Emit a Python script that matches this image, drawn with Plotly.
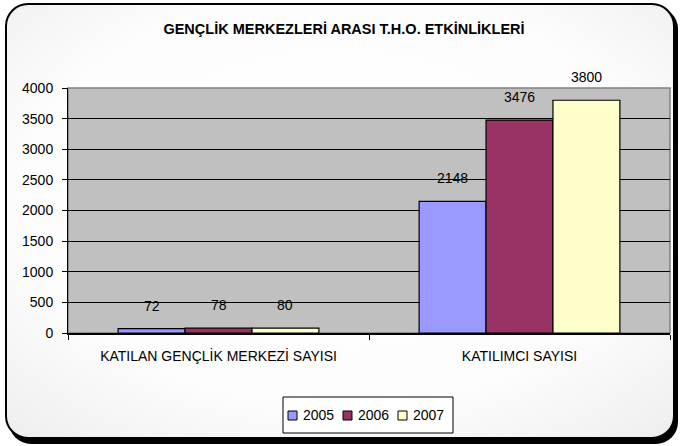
import plotly.graph_objects as go
import base64

categories = ["KATILAN GENÇLİK MERKEZİ SAYISI", "KATILIMCI SAYISI"]
series_names = ["2005", "2006", "2007"]
values_2005 = [72, 2148]
values_2006 = [78, 3476]
values_2007 = [80, 3800]
series_values = [values_2005, values_2006, values_2007]
colors = ["#9999FF", "#993366", "#FFFFCC"]
y_ticks = [0, 500, 1000, 1500, 2000, 2500, 3000, 3500, 4000]
title_text = "GENÇLİK MERKEZLERİ ARASI T.H.O. ETKİNLİKLERİ"

W, H = 680, 446
FONT = "Liberation Sans, Arial, sans-serif"
bargap = 0.333
L, R, T, B = 68, 10, 88, 113
pw = W - L - R
ph = H - T - B


def px_x(px):
    return (px - L) / pw


def px_y(py):
    return (H - B - py) / ph


fig = go.Figure()
for name, vals, col in zip(series_names, series_values, colors):
    fig.add_trace(go.Bar(
        name=name, x=categories, y=vals,
        marker=dict(color=col, line=dict(color="black", width=1.2)),
        hoverinfo="skip", showlegend=False,
    ))

# value labels above bars
bw = (1 - bargap) / len(series_names)
for si, vals in enumerate(series_values):
    off = (si - (len(series_names) - 1) / 2) * bw
    for ci, v in enumerate(vals):
        fig.add_annotation(x=ci + off, y=v, xref="x", yref="y", text=str(v),
                           showarrow=False, yshift=23, yanchor="middle",
                           font=dict(family=FONT, size=14, color="black"))

# background frame (rounded rectangle with soft gradient and shadow)
svg = f'''<svg xmlns="http://www.w3.org/2000/svg" width="{W}" height="{H}" viewBox="0 0 {W} {H}">
<defs><radialGradient id="g" cx="50%" cy="45%" r="72%">
<stop offset="0%" stop-color="#ffffff"/><stop offset="65%" stop-color="#fdfdfd"/><stop offset="100%" stop-color="#efefef"/></radialGradient></defs>
<rect x="0" y="0" width="{W}" height="{H}" fill="#ffffff"/>
<rect x="9" y="7" width="669" height="437" rx="22" ry="22" fill="#000000"/>
<rect x="6" y="4" width="668" height="434" rx="22" ry="22" fill="url(#g)" stroke="#000000" stroke-width="2"/>
</svg>'''
src = "data:image/svg+xml;base64," + base64.b64encode(svg.encode()).decode()
fig.add_layout_image(dict(source=src, xref="paper", yref="paper",
                          x=-L / pw, y=1 + T / ph, sizex=W / pw, sizey=H / ph,
                          xanchor="left", yanchor="top",
                          sizing="stretch", layer="below"))

# plot area background
fig.add_shape(type="rect", xref="paper", yref="paper", x0=0, y0=0, x1=1, y1=1,
              fillcolor="#C0C0C0", line=dict(color="#808080", width=1.5), layer="below")

# custom legend
fig.add_shape(type="rect", xref="paper", yref="paper",
              x0=px_x(283), x1=px_x(453), y0=px_y(433), y1=px_y(397),
              fillcolor="white", line=dict(color="black", width=1), layer="above")
for i, (name, col) in enumerate(zip(series_names, colors)):
    sx = 288 + i * 55
    fig.add_shape(type="rect", xref="paper", yref="paper",
                  x0=px_x(sx), x1=px_x(sx + 9), y0=px_y(420), y1=px_y(411),
                  fillcolor=col, line=dict(color="black", width=1), layer="above")
    fig.add_annotation(x=px_x(sx + 13), y=px_y(414.5), xref="paper", yref="paper",
                       text=name, showarrow=False, xanchor="left", yanchor="middle",
                       font=dict(family=FONT, size=14, color="black"))

fig.update_layout(
    width=W, height=H,
    margin=dict(l=L, r=R, t=T, b=B, pad=0, autoexpand=False),
    paper_bgcolor="rgba(0,0,0,0)",
    plot_bgcolor="rgba(0,0,0,0)",
    barmode="group", bargap=bargap, bargroupgap=0,
    font=dict(family=FONT, size=14, color="black"),
    title=dict(text="<b>" + title_text + "</b>", x=344 / W, xref="container",
               xanchor="center",
               y=1 - 28.5 / H, yanchor="middle", yref="container",
               font=dict(family=FONT, size=14.5, color="black")),
    showlegend=False,
    xaxis=dict(showline=True, linecolor="black", linewidth=1.5, ticks="outside",
               tickson="boundaries", ticklen=5, tickcolor="black",
               ticklabelstandoff=9,
               tickfont=dict(family=FONT, size=14), showgrid=False),
    yaxis=dict(range=[0, 4000], tickvals=y_ticks, showgrid=True,
               gridcolor="black", gridwidth=1, showline=True, linecolor="black",
               linewidth=1, ticks="outside", ticklen=5, tickcolor="black",
               ticklabelstandoff=6,
               tickfont=dict(family=FONT, size=14), zeroline=False),
)

fig.write_html("out.html", config={"displayModeBar": False},
               post_script="document.body.style.margin='0';")
